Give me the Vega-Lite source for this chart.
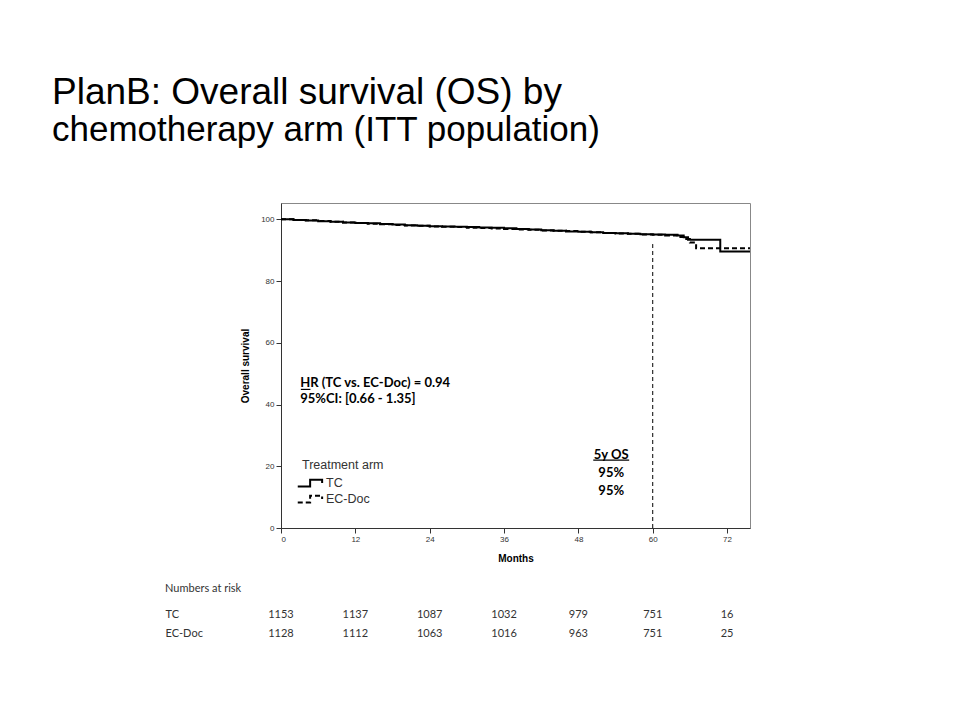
{
  "$schema": "https://vega.github.io/schema/vega-lite/v6.json",
  "autosize": {"type": "none"},
  "padding": {"left": 281, "top": 203, "right": 679, "bottom": 518},
  "background": "white",
  "title": {
    "text": "PlanB: Overall survival (OS) by",
    "subtitle": "chemotherapy arm (ITT population)",
    "anchor": "start",
    "frame": "bounds",
    "font": "Liberation Sans",
    "fontSize": 37,
    "fontWeight": "normal",
    "color": "black",
    "subtitleFont": "Liberation Sans",
    "subtitleFontSize": 35,
    "subtitleFontWeight": "normal",
    "subtitleColor": "black",
    "subtitlePadding": 1,
    "dx": -113,
    "offset": 54
  },
  "spacing": 19,
  "resolve": {"scale": {"strokeDash": "independent"}, "legend": {"strokeDash": "independent"}},
  "config": {"view": {"stroke": null}, "font": "Liberation Sans"},
  "vconcat": [
    {
      "width": 469,
      "height": 325,
      "view": {"stroke": "#888", "strokeWidth": 1},
      "layer": [
        {
          "data": {
            "values": [
              {"arm": "TC", "month": 0, "os": 100}, {"arm": "TC", "month": 2, "os": 99.8}, {"arm": "TC", "month": 4, "os": 99.6},
              {"arm": "TC", "month": 6, "os": 99.4}, {"arm": "TC", "month": 8, "os": 99.2}, {"arm": "TC", "month": 10, "os": 99.0},
              {"arm": "TC", "month": 12, "os": 98.8}, {"arm": "TC", "month": 14, "os": 98.7}, {"arm": "TC", "month": 16, "os": 98.5},
              {"arm": "TC", "month": 18, "os": 98.3}, {"arm": "TC", "month": 20, "os": 98.1}, {"arm": "TC", "month": 22, "os": 97.9},
              {"arm": "TC", "month": 24, "os": 97.8}, {"arm": "TC", "month": 26, "os": 97.7}, {"arm": "TC", "month": 28, "os": 97.6},
              {"arm": "TC", "month": 30, "os": 97.5}, {"arm": "TC", "month": 32, "os": 97.4}, {"arm": "TC", "month": 34, "os": 97.3},
              {"arm": "TC", "month": 36, "os": 97.1}, {"arm": "TC", "month": 38, "os": 96.9}, {"arm": "TC", "month": 40, "os": 96.7},
              {"arm": "TC", "month": 42, "os": 96.5}, {"arm": "TC", "month": 44, "os": 96.3}, {"arm": "TC", "month": 46, "os": 96.1},
              {"arm": "TC", "month": 48, "os": 96.0}, {"arm": "TC", "month": 50, "os": 95.8}, {"arm": "TC", "month": 52, "os": 95.6},
              {"arm": "TC", "month": 54, "os": 95.5}, {"arm": "TC", "month": 56, "os": 95.3}, {"arm": "TC", "month": 58, "os": 95.2},
              {"arm": "TC", "month": 60, "os": 95.1}, {"arm": "TC", "month": 62, "os": 95.0}, {"arm": "TC", "month": 64, "os": 94.8},
              {"arm": "TC", "month": 65, "os": 94.2}, {"arm": "TC", "month": 65.7, "os": 93.4}, {"arm": "TC", "month": 70.9, "os": 89.6},
              {"arm": "TC", "month": 75.7, "os": 89.6},
              {"arm": "EC-Doc", "month": 0, "os": 100}, {"arm": "EC-Doc", "month": 2, "os": 99.8}, {"arm": "EC-Doc", "month": 4, "os": 99.7},
              {"arm": "EC-Doc", "month": 6, "os": 99.5}, {"arm": "EC-Doc", "month": 8, "os": 99.2}, {"arm": "EC-Doc", "month": 10, "os": 99.0},
              {"arm": "EC-Doc", "month": 12, "os": 98.8}, {"arm": "EC-Doc", "month": 14, "os": 98.6}, {"arm": "EC-Doc", "month": 16, "os": 98.4},
              {"arm": "EC-Doc", "month": 18, "os": 98.2}, {"arm": "EC-Doc", "month": 20, "os": 98.0}, {"arm": "EC-Doc", "month": 22, "os": 97.9},
              {"arm": "EC-Doc", "month": 24, "os": 97.7}, {"arm": "EC-Doc", "month": 26, "os": 97.6}, {"arm": "EC-Doc", "month": 28, "os": 97.5},
              {"arm": "EC-Doc", "month": 30, "os": 97.3}, {"arm": "EC-Doc", "month": 32, "os": 97.2}, {"arm": "EC-Doc", "month": 34, "os": 97.0},
              {"arm": "EC-Doc", "month": 36, "os": 96.9}, {"arm": "EC-Doc", "month": 38, "os": 96.7}, {"arm": "EC-Doc", "month": 40, "os": 96.6},
              {"arm": "EC-Doc", "month": 42, "os": 96.4}, {"arm": "EC-Doc", "month": 44, "os": 96.3}, {"arm": "EC-Doc", "month": 46, "os": 96.2},
              {"arm": "EC-Doc", "month": 48, "os": 96.0}, {"arm": "EC-Doc", "month": 50, "os": 95.8}, {"arm": "EC-Doc", "month": 52, "os": 95.6},
              {"arm": "EC-Doc", "month": 54, "os": 95.4}, {"arm": "EC-Doc", "month": 56, "os": 95.3}, {"arm": "EC-Doc", "month": 58, "os": 95.1},
              {"arm": "EC-Doc", "month": 60, "os": 95.0}, {"arm": "EC-Doc", "month": 62, "os": 94.8}, {"arm": "EC-Doc", "month": 64, "os": 94.3},
              {"arm": "EC-Doc", "month": 65, "os": 93.6}, {"arm": "EC-Doc", "month": 66, "os": 92.5}, {"arm": "EC-Doc", "month": 67, "os": 90.6},
              {"arm": "EC-Doc", "month": 75.7, "os": 90.6}
            ]
          },
          "mark": {"type": "line", "interpolate": "step-after", "strokeWidth": 2, "color": "black"},
          "encoding": {
            "x": {
              "field": "month", "type": "quantitative",
              "scale": {"domain": [0, 75.7], "nice": false, "zero": false},
              "axis": {
                "title": "Months", "values": [0, 12, 24, 36, 48, 60, 72],
                "titleFont": "Liberation Sans", "titleFontSize": 10, "titleFontWeight": "bold", "titleColor": "black", "titlePadding": 10,
                "labelFont": "Liberation Sans", "labelFontSize": 8, "labelColor": "#333", "labelPadding": 2,
                "tickSize": 5, "tickColor": "#333", "domainColor": "#333", "grid": false
              }
            },
            "y": {
              "field": "os", "type": "quantitative",
              "scale": {"domain": [0, 105.3], "nice": false},
              "axis": {
                "title": "Overall survival", "values": [0, 20, 40, 60, 80, 100],
                "titleFont": "Liberation Sans", "titleFontSize": 10, "titleFontWeight": "bold", "titleColor": "black", "titlePadding": 10,
                "labelFont": "Liberation Sans", "labelFontSize": 8, "labelColor": "#333", "labelPadding": 2,
                "tickSize": 5, "tickColor": "#333", "domainColor": "#333", "grid": false
              }
            },
            "strokeDash": {
              "field": "arm", "type": "nominal",
              "scale": {"domain": ["TC", "EC-Doc"], "range": [[1, 0], [5, 3]]},
              "legend": {
                "title": "Treatment arm", "orient": "bottom-left", "offset": 21,
                "titleFont": "Liberation Sans", "titleFontSize": 12.5, "titleFontWeight": "normal", "titleColor": "#333", "titlePadding": 3,
                "labelFont": "Liberation Sans", "labelFontSize": 12.5, "labelColor": "#333", "labelOffset": 7,
                "symbolType": "M-1.7,0.45H-0.05V-0.45H1.55V0", "symbolSize": 225, "symbolStrokeColor": "black", "symbolStrokeWidth": 2,
                "symbolFillColor": "transparent", "rowPadding": 0
              }
            }
          }
        },
        {
          "data": {"values": [{"month": 60, "lo": 0, "hi": 92}]},
          "mark": {"type": "rule", "strokeDash": [4, 3], "strokeWidth": 1, "color": "black"},
          "encoding": {
            "x": {"field": "month", "type": "quantitative"},
            "y": {"field": "lo", "type": "quantitative"},
            "y2": {"field": "hi"}
          }
        },
        {
          "data": {"values": [
            {"month": 3.1, "os": 47.1, "label": "HR (TC vs. EC-Doc) = 0.94"},
            {"month": 3.1, "os": 41.8, "label": "95%CI: [0.66 - 1.35]"}
          ]},
          "mark": {"type": "text", "align": "left", "baseline": "middle", "font": "Lato", "fontWeight": "bold", "fontSize": 13, "color": "black"},
          "encoding": {
            "x": {"field": "month", "type": "quantitative"},
            "y": {"field": "os", "type": "quantitative"},
            "text": {"field": "label"}
          }
        },
        {
          "data": {"values": [
            {"month": 53.3, "os": 23.7, "label": "5y OS"},
            {"month": 53.3, "os": 17.9, "label": "95%"},
            {"month": 53.3, "os": 12.1, "label": "95%"}
          ]},
          "mark": {"type": "text", "align": "center", "baseline": "middle", "font": "Lato", "fontWeight": "bold", "fontSize": 13, "color": "black"},
          "encoding": {
            "x": {"field": "month", "type": "quantitative"},
            "y": {"field": "os", "type": "quantitative"},
            "text": {"field": "label"}
          }
        },
        {
          "data": {"values": [
            {"x1": 3.2, "x2": 4.75, "os": 44.9},
            {"x1": 50.4, "x2": 56.2, "os": 22.0}
          ]},
          "mark": {"type": "rule", "strokeWidth": 1.2, "color": "black"},
          "encoding": {
            "x": {"field": "x1", "type": "quantitative"},
            "x2": {"field": "x2"},
            "y": {"field": "os", "type": "quantitative"}
          }
        }
      ]
    },
    {
      "width": 469,
      "height": 38,
      "title": {"text": "Numbers at risk", "anchor": "start", "frame": "bounds", "font": "Lato", "fontSize": 11, "fontWeight": "normal", "color": "#333", "offset": 11},
      "data": {"values": [
        {"arm": "TC", "month": 0, "n": 1153}, {"arm": "TC", "month": 12, "n": 1137}, {"arm": "TC", "month": 24, "n": 1087},
        {"arm": "TC", "month": 36, "n": 1032}, {"arm": "TC", "month": 48, "n": 979}, {"arm": "TC", "month": 60, "n": 751},
        {"arm": "TC", "month": 72, "n": 16},
        {"arm": "EC-Doc", "month": 0, "n": 1128}, {"arm": "EC-Doc", "month": 12, "n": 1112}, {"arm": "EC-Doc", "month": 24, "n": 1063},
        {"arm": "EC-Doc", "month": 36, "n": 1016}, {"arm": "EC-Doc", "month": 48, "n": 963}, {"arm": "EC-Doc", "month": 60, "n": 751},
        {"arm": "EC-Doc", "month": 72, "n": 25}
      ]},
      "mark": {"type": "text", "font": "Lato", "fontSize": 11, "color": "#333"},
      "encoding": {
        "x": {"field": "month", "type": "quantitative", "scale": {"domain": [0, 75.7], "nice": false}, "axis": null},
        "y": {
          "field": "arm", "type": "nominal", "sort": ["TC", "EC-Doc"],
          "axis": {"title": null, "domain": false, "ticks": false, "labelAlign": "left", "labelPadding": 116, "labelFont": "Lato", "labelFontSize": 11, "labelColor": "#333"}
        },
        "text": {"field": "n", "type": "quantitative", "format": "d"}
      }
    }
  ]
}
